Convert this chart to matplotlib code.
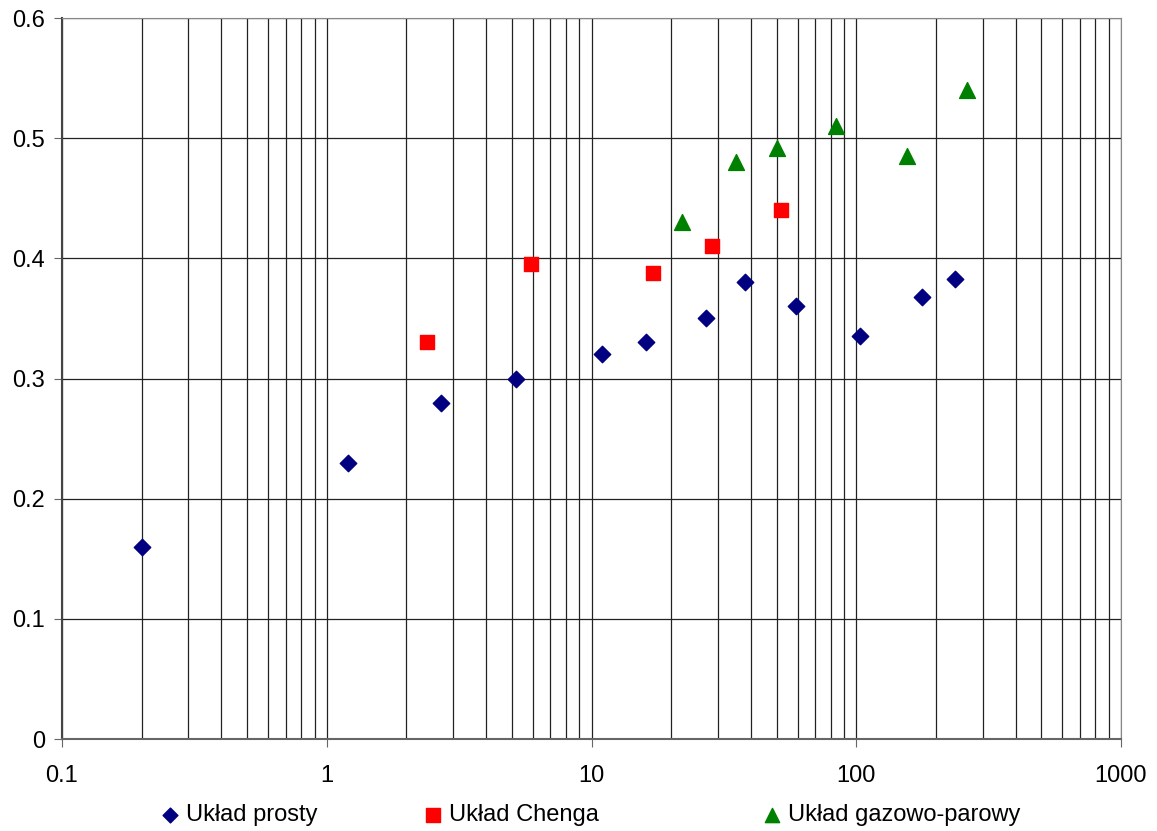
import matplotlib.pyplot as plt
import matplotlib.ticker as mticker

plt.rcParams['font.family'] = ['Liberation Sans', 'DejaVu Sans']

# Data
prosty_x = [0.2, 1.2, 2.7, 5.2, 11, 16, 27, 38, 59, 103, 177, 236]
prosty_y = [0.16, 0.23, 0.28, 0.30, 0.32, 0.33, 0.35, 0.38, 0.36, 0.335, 0.368, 0.383]

chenga_x = [2.4, 5.9, 17, 28.5, 52]
chenga_y = [0.33, 0.395, 0.388, 0.41, 0.44]

gp_x = [22, 35, 50, 84, 156, 262]
gp_y = [0.43, 0.48, 0.492, 0.51, 0.485, 0.54]

labels = ["Układ prosty", "Układ Chenga", "Układ gazowo-parowy"]

W, H = 1157, 831
fig = plt.figure(figsize=(W / 100, H / 100), dpi=100)
ax = fig.add_axes([62 / W, 1 - 739 / H, (1121 - 62) / W, (739 - 18) / H])

ax.scatter(prosty_x, prosty_y, marker='D', s=70, color='#000080', label=labels[0], zorder=3)
ax.scatter(chenga_x, chenga_y, marker='s', s=110, color='#ff0000', label=labels[1], zorder=3)
ax.scatter(gp_x, gp_y, marker='^', s=130, color='#008000', label=labels[2], zorder=3)

ax.set_xscale('log')
ax.set_xlim(0.1, 1000)
ax.set_ylim(0, 0.6)
ax.set_yticks([0, 0.1, 0.2, 0.3, 0.4, 0.5, 0.6])
ax.yaxis.set_major_formatter(mticker.FuncFormatter(lambda v, p: '0' if v == 0 else f'{v:g}'))
ax.xaxis.set_major_locator(mticker.LogLocator(base=10, numticks=10))
ax.xaxis.set_major_formatter(mticker.FuncFormatter(lambda v, p: f'{v:g}'))
ax.xaxis.set_minor_locator(mticker.LogLocator(base=10, subs=range(2, 10), numticks=20))
ax.xaxis.set_minor_formatter(mticker.NullFormatter())

ax.grid(True, which='both', axis='x', color='#222222', linewidth=0.9)
ax.grid(True, which='major', axis='y', color='#222222', linewidth=0.9)
ax.set_axisbelow(True)

for s in ['top', 'right']:
    ax.spines[s].set_color('#888888')
ax.spines['bottom'].set_color('#666666')
ax.spines['left'].set_color('#444444')
ax.spines['left'].set_linewidth(1.5)
ax.spines['bottom'].set_linewidth(1.5)

ax.tick_params(axis='both', which='major', labelsize=17, direction='out', length=6, color='#666666')
ax.tick_params(axis='x', which='minor', length=0)
ax.tick_params(axis='x', pad=13)
ax.tick_params(axis='y', pad=6)

# one legend entry per series, spread along the bottom like the original
handles, names = ax.get_legend_handles_labels()
legend_left = [158, 421, 760]
for h, n, xl in zip(handles, names, legend_left):
    fig.legend([h], [n], loc='center left', bbox_to_anchor=(xl / W, 1 - 815 / H),
               frameon=False, fontsize=17, handlelength=1.0, handletextpad=0.2,
               scatterpoints=1, markerscale=0.9, borderaxespad=0, borderpad=0)

fig.savefig('out.png', dpi=100)
